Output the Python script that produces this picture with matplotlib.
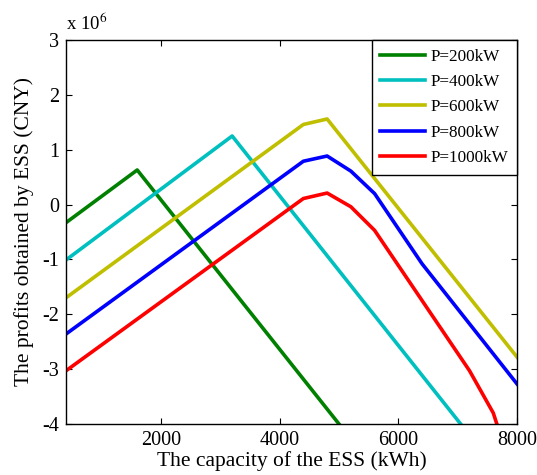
import matplotlib
matplotlib.use("Agg")
import matplotlib.pyplot as plt

plt.rcParams["font.family"] = ["Liberation Serif", "DejaVu Serif"]
plt.rcParams["mathtext.fontset"] = "stix"
plt.rcParams["axes.unicode_minus"] = False

# profits in units of 1e6 CNY
labels = ["P=200kW", "P=400kW", "P=600kW", "P=800kW", "P=1000kW"]
colors = ["#008000", "#00bfbf", "#bfbf00", "#0000ff", "#ff0000"]

x_200 = [400, 1600, 5000]
y_200 = [-0.33, 0.63, -4.0]
x_400 = [400, 3200, 7050]
y_400 = [-1.01, 1.25, -4.0]
x_600 = [400, 4400, 4800, 8000]
y_600 = [-1.70, 1.46, 1.56, -2.78]
x_800 = [400, 4400, 4800, 5200, 5600, 6400, 8000]
y_800 = [-2.36, 0.79, 0.885, 0.61, 0.20, -1.08, -3.27]
x_1000 = [400, 4400, 4800, 5200, 5600, 7200, 7600, 7660]
y_1000 = [-3.03, 0.11, 0.21, -0.04, -0.47, -3.03, -3.80, -4.0]

series = [(x_200, y_200), (x_400, y_400), (x_600, y_600), (x_800, y_800), (x_1000, y_1000)]

fig = plt.figure(figsize=(5.37, 4.75), dpi=100)
ax = fig.add_axes([0.1229, 0.1074, 0.8399, 0.8084])

for (xs, ys), lab, col in zip(series, labels, colors):
    ax.plot(xs, ys, color=col, linewidth=2.6, label=lab)

ax.set_xlim(400, 8000)
ax.set_ylim(-4, 3)
ax.set_xticks([2000, 4000, 6000, 8000])
ax.set_yticks(range(-4, 4))
ax.tick_params(direction="in", top=True, right=True, labelsize=14.5, length=4, pad=5)
for sp in ax.spines.values():
    sp.set_linewidth(1.0)

ax.set_xlabel("The capacity of the ESS (kWh)", fontsize=15.5, labelpad=1)
ax.set_ylabel("The profits obtained by ESS (CNY)", fontsize=15.5, labelpad=6)
ax.text(0.0, 1.015, r"x 10$^6$", transform=ax.transAxes, fontsize=13.5, ha="left", va="bottom")

leg = ax.legend(loc="upper right", fontsize=12.3, fancybox=False, framealpha=1,
                edgecolor="black", borderaxespad=0, handlelength=2.6, handletextpad=0.35,
                labelspacing=0.55, borderpad=0.5)
leg.get_frame().set_linewidth(1.0)

fig.savefig("out.png", dpi=100)
